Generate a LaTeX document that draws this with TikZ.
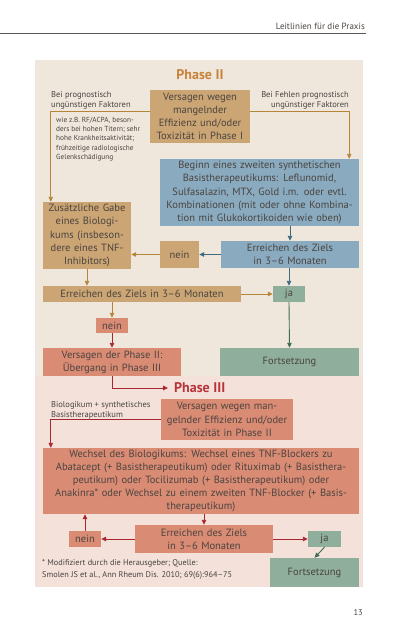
\documentclass[tikz,border=0pt]{standalone}
\usepackage{fontspec}
\setmainfont{PT Sans}
\usetikzlibrary{arrows.meta,calc}
\definecolor{txt}{HTML}{4A4440}
\definecolor{bgII}{HTML}{EFE7DC}
\definecolor{bgIII}{HTML}{F3E1DA}
\definecolor{tanf}{HTML}{CCA574}
\definecolor{tanl}{HTML}{B5853A}
\definecolor{bluef}{HTML}{8AAABF}
\definecolor{bluel}{HTML}{3D6B80}
\definecolor{greenf}{HTML}{8FAE9B}
\definecolor{greenl}{HTML}{3E6B55}
\definecolor{salf}{HTML}{D98B74}
\definecolor{redl}{HTML}{A8262E}
\definecolor{orangeT}{HTML}{C8823A}
\definecolor{redT}{HTML}{B8333A}
\begin{document}
\begin{tikzpicture}[x=1pt,y=-1pt,
  box/.style={inner xsep=0pt, inner ysep=0pt, align=center, text=txt,
    font=\fontsize{10.5}{13.2}\selectfont},
  tanb/.style={box, fill=tanf},
  blueb/.style={box, fill=bluef},
  greenb/.style={box, fill=greenf},
  salb/.style={box, fill=salf},
  lbl/.style={inner sep=0pt, text=txt, font=\fontsize{8.5}{10}\selectfont},
  conn/.style={line width=0.9pt, -{Triangle[length=5pt,width=4.5pt]}},
  tarr/.style={conn, draw=tanl, color=tanl},
  barr/.style={conn, draw=bluel, color=bluel},
  garr/.style={conn, draw=greenl, color=greenl},
  rarr/.style={conn, draw=redl, color=redl}]
\useasboundingbox (0,0) rectangle (408,640);
\fill[white] (0,0) rectangle (408,640);
% header
\node[inner sep=0pt, anchor=base east, text=txt, font=\fontsize{9}{11}\selectfont] (hdr) at (365,29) {Leitlinien für die Praxis};
\draw[line width=0.8pt, txt!90] (0,33) -- (366,33);
% panels
\fill[bgII] (35,60) rectangle (363,376);
\fill[bgIII] (35,376) rectangle (363,587);
% Phase II
\node[inner sep=0pt, text=orangeT, font=\fontsize{14}{16}\selectfont\bfseries] (p2) at (200,75) {Phase II};
\node[tanb, text width=100pt, minimum height=53pt] (v2) at (200,116.5) {Versagen wegen\\mangelnder\\Effizienz und/oder\\Toxizität in Phase I};
\node[lbl, anchor=north west, align=left] (lL) at (51,91) {Bei prognostisch\\ungünstigen Faktoren};
\node[lbl, anchor=north east, align=right] (lR) at (349,91) {Bei Fehlen prognostisch\\ungünstiger Faktoren};
\node[inner sep=0pt, anchor=north west, align=left, text=txt, font=\fontsize{7.3}{9.3}\selectfont] (wie) at (56,117) {wie z.B. RF/ACPA, beson-\\ders bei hohen Titern; sehr\\hohe Krankheitsaktivität;\\frühzeitige radiologische\\Gelenkschädigung};
\node[blueb, text width=199pt, minimum height=67pt] (b1) at (259.5,192.5) {Beginn eines zweiten synthetischen\\Basistherapeutikums: Leflunomid,\\Sulfasalazin, MTX, Gold i.m. oder evtl.\\Kombinationen (mit oder ohne Kombina-\\tion mit Glukokortikoiden wie oben)};
\node[tanb, text width=88pt, minimum height=67pt] (zus) at (87,235.5) {Zusätzliche Gabe\\eines Biologi-\\kums (insbeson-\\dere eines TNF-\\Inhibitors)};
\node[tanb, text width=39pt, minimum height=27pt] (n1) at (179.5,254.5) {nein};
\node[blueb, text width=138pt, minimum height=27pt] (erb) at (290,254.5) {Erreichen des Ziels\\in 3–6 Monaten};
\node[tanb, text width=198pt, minimum height=16pt] (ert) at (142,294) {Erreichen des Ziels in 3–6 Monaten};
\node[greenb, text width=32pt, minimum height=16pt] (ja1) at (289,294) {ja};
\node[salb, text width=32pt, minimum height=15pt] (n2) at (112,325.5) {nein};
\node[salb, text width=138pt, minimum height=28pt] (vp2) at (112,362) {Versagen der Phase II:\\Übergang in Phase III};
\node[greenb, text width=139pt, minimum height=28pt] (f1) at (289.5,362) {Fortsetzung};
% Phase III
\node[inner sep=0pt, anchor=west, text=redT, font=\fontsize{14}{16}\selectfont\bfseries] (p3) at (174,388) {Phase III};
\node[lbl, anchor=north west, align=left] (lB) at (51,401) {Biologikum + synthetisches\\Basistherapeutikum};
\node[salb, text width=132pt, minimum height=41pt] (v3) at (227,419.5) {Versagen wegen man-\\gelnder Effizienz und/oder\\Toxizität in Phase II};
\node[salb, text width=316pt, minimum height=66pt] (w) at (201,481) {Wechsel des Biologikums: Wechsel eines TNF-Blockers zu\\Abatacept (+ Basistherapeutikum) oder Rituximab (+ Basisthera-\\peutikum) oder Tocilizumab (+ Basistherapeutikum) oder\\Anakinra* oder Wechsel zu einem zweiten TNF-Blocker (+ Basis-\\therapeutikum)};
\node[salb, text width=32pt, minimum height=16pt] (n3) at (85,539) {nein};
\node[salb, text width=138pt, minimum height=28pt] (er3) at (204,539) {Erreichen des Ziels\\in 3–6 Monaten};
\node[greenb, text width=33pt, minimum height=16pt] (ja3) at (324.5,539) {ja};
\node[greenb, text width=89pt, minimum height=29pt] (f3) at (314.5,572.5) {Fortsetzung};
\node[inner sep=0pt, anchor=north west, align=left, text=txt, font=\fontsize{8.3}{12}\selectfont] (fn) at (42,559) {* Modifiziert durch die Herausgeber; Quelle:\\Smolen JS et al., Ann Rheum Dis. 2010; 69(6):964–75};
\node[inner sep=0pt, anchor=east, text=txt, font=\fontsize{8.5}{10}\selectfont] (pg) at (363,613) {13};
% connectors Phase II
\draw[tarr] ([yshift=5.5pt]v2.west) -| ([xshift=8pt]zus.north west);
\draw[tarr] ([yshift=5.5pt]v2.east) -| ([xshift=-10pt]b1.north east);
\draw[barr] (b1.south -| erb.north) -- (erb.north);
\draw[barr] (erb.west) -- (n1.east);
\draw[tarr] (n1.west) -- (n1.west -| zus.east);
\draw[tarr] (zus.south) -- (zus.south |- ert.north);
\draw[barr] (erb.south -| ja1.north) -- (ja1.north);
\draw[tarr] (ert.east) -- (ja1.west);
\draw[tarr] (n2.north |- ert.south) -- (n2.north);
\draw[rarr] (n2.south) -- (vp2.north);
\draw[garr] (ja1.south) -- (f1.north);
% connectors Phase III
\draw[rarr] (vp2.south) |- ([xshift=-6pt]p3.west);
\draw[rarr] (v3.west) -| ([xshift=8pt]w.north west);
\draw[rarr] (w.south -| er3.north) -- (er3.north);
\draw[rarr] (n3.north) -- (n3.north |- w.south);
\draw[rarr] (er3.west) -- (n3.east);
\draw[rarr] (er3.east) -- (ja3.west);
\draw[garr] (ja3.south) -- (f3.north);
\end{tikzpicture}
\end{document}
